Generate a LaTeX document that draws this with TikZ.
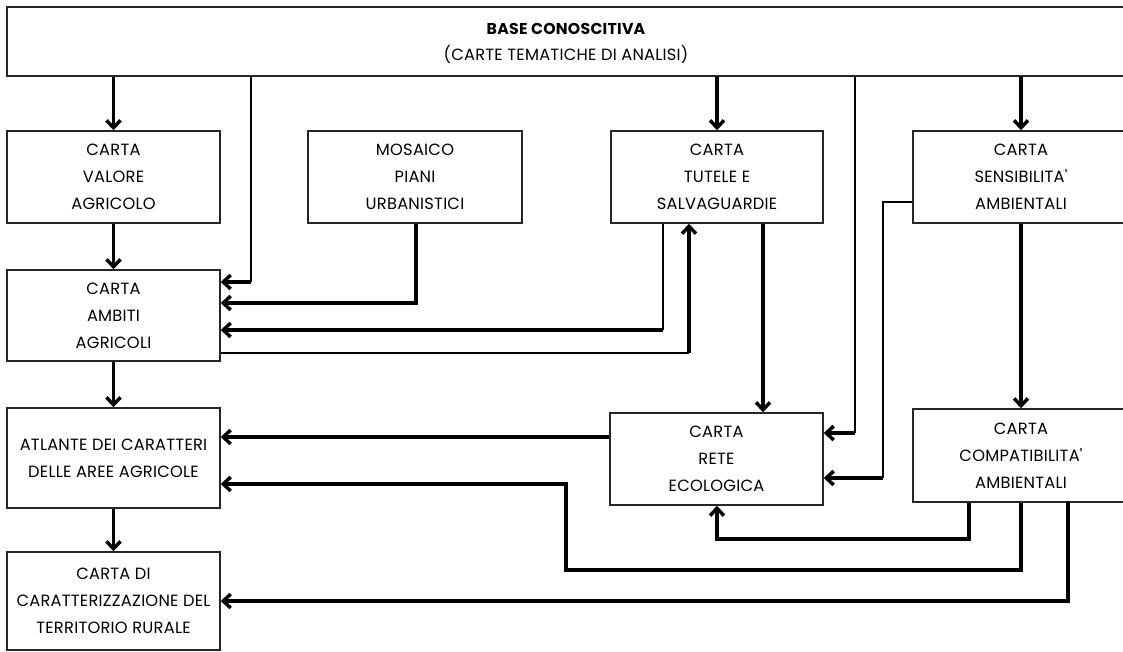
\documentclass[tikz,border=0pt]{standalone}
\usepackage{fontspec}
\setmainfont{Poppins}
\newfontfamily\boxfont[LetterSpace=1.5]{Poppins}
\usetikzlibrary{arrows.meta}
\begin{document}
\begin{tikzpicture}[x=0.75pt,y=-0.75pt,
  box/.style={draw=black!85, line width=1.2pt, align=center, inner sep=0pt, font=\boxfont\fontsize{12.2}{20.2}\selectfont},
  txt/.style={inner sep=0pt, font=\boxfont\fontsize{12.2}{20}\selectfont},
  lthin/.style={line width=1.1pt},
  lthick/.style={line width=2.6pt},
  arr/.style={lthick, -{Straight Barb[length=5.5pt,width=10.5pt]}}]
\useasboundingbox (0,0) rectangle (1123,651);
\clip (0,0) rectangle (1123,651);
\fill[white] (0,0) rectangle (1123,651);

% boxes
\node[box, minimum width=846pt, minimum height=51.75pt] (top) at (571,41.5) {};
\node[txt, font=\boxfont\fontsize{11.8}{20}\selectfont\bfseries] (t1) at (566,29) {BASE CONOSCITIVA};
\node[txt] (t2) at (566,54) {(CARTE TEMATICHE DI ANALISI)};

\node[box, minimum width=159.75pt, minimum height=69pt] (valore) at (113.5,177) {CARTA\\VALORE\\AGRICOLO};
\node[box, minimum width=160.5pt, minimum height=69pt] (mosaico) at (415,177) {MOSAICO\\PIANI\\URBANISTICI};
\node[box, minimum width=159pt, minimum height=69pt] (tutele) at (717,177) {CARTA\\TUTELE E\\SALVAGUARDIE};
\node[box, minimum width=162pt, minimum height=69pt] (sens) at (1021,177) {CARTA\\SENSIBILITA'\\AMBIENTALI};

\node[box, minimum width=159.75pt, minimum height=68.25pt] (ambiti) at (113.5,315.5) {CARTA\\AMBITI\\AGRICOLI};
\node[box, minimum width=159.75pt, minimum height=75pt] (atlante) at (113.5,458) {ATLANTE DEI CARATTERI\\DELLE AREE AGRICOLE};
\node[box, minimum width=159.75pt, minimum height=73.5pt] (caratt) at (113.5,601) {CARTA DI\\CARATTERIZZAZIONE DEL\\TERRITORIO RURALE};

\node[box, minimum width=159.75pt, minimum height=69pt] (rete) at (716.5,459) {CARTA\\RETE\\ECOLOGICA};
\node[box, minimum width=162pt, minimum height=69.75pt] (compat) at (1021,455.5) {CARTA\\COMPATIBILITA'\\AMBIENTALI};

% helper coordinates
\coordinate (c2) at (251,282);
\coordinate (c4) at (855,433);
\coordinate (c7) at (416,303);
\coordinate (c8) at (663,330);
\coordinate (c9) at (689,353);
\coordinate (c10) at (763,300);
\coordinate (c11) at (883,202);
\coordinate (c11b) at (883,478);
\coordinate (c14) at (600,437);
\coordinate (c15) at (969,539);
\coordinate (c15b) at (717,539);
\coordinate (c16a) at (1021,570);
\coordinate (c16b) at (566,570);
\coordinate (c16c) at (566,484);
\coordinate (c17) at (1068,601);

% connectors from base
\draw[arr] (top.south -| valore.north) -- (valore.north);
\draw[lthin] (top.south -| c2) -- (c2);
\draw[arr] (c2) -- (c2 -| ambiti.east);
\draw[arr] (top.south -| tutele.north) -- (tutele.north);
\draw[lthin] (top.south -| c4) -- (c4);
\draw[arr] (c4) -- (c4 -| rete.east);
\draw[arr] (top.south -| sens.north) -- (sens.north);

% other connectors
\draw[arr] (valore.south) -- (ambiti.north);
\draw[arr] (mosaico.south -| c7) -- (c7) -- (c7 -| ambiti.east);
\draw[lthin] (tutele.south -| c8) -- (c8);
\draw[arr] (c8) -- (c8 -| ambiti.east);
\draw[lthin] (ambiti.east |- c9) -- (c9);
\draw[arr] (c9) -- (c9 |- tutele.south);
\draw[arr] (tutele.south -| c10) -- (rete.north -| c10);
\draw[lthin] (sens.west |- c11) -- (c11) -- (c11b);
\draw[arr] (c11b) -- (c11b -| rete.east);
\draw[arr] (sens.south) -- (compat.north);
\draw[arr] (ambiti.south) -- (atlante.north);
\draw[arr] (rete.west |- c14) -- (atlante.east |- c14);
\draw[arr] (compat.south -| c15) -- (c15) -- (c15b) -- (c15b |- rete.south);
\draw[arr] (compat.south) -- (c16a) -- (c16b) -- (c16c) -- (c16c -| atlante.east);
\draw[arr, line cap=round] (compat.south -| c17) -- (c17) -- (caratt.east);
\draw[arr] (atlante.south) -- (caratt.north);
\end{tikzpicture}
\end{document}
